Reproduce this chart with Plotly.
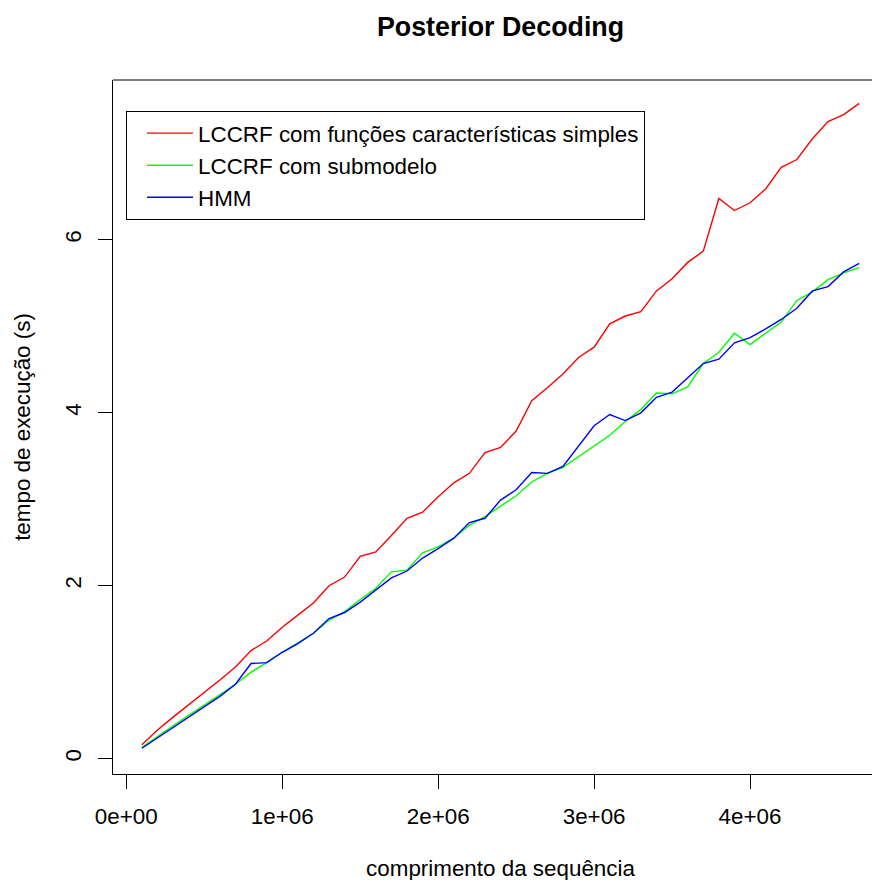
import plotly.graph_objects as go

seq_len = [i * 100000 for i in range(1, 48)]

lccrf_simples = [0.16, 0.33, 0.48, 0.62, 0.76, 0.91, 1.06, 1.25, 1.36, 1.52,
                 1.66, 1.80, 2.00, 2.10, 2.34, 2.39, 2.58, 2.78, 2.85, 3.03,
                 3.19, 3.30, 3.54, 3.60, 3.79, 4.14, 4.29, 4.45, 4.64, 4.76,
                 5.03, 5.12, 5.17, 5.41, 5.55, 5.74, 5.87, 6.48, 6.34, 6.43,
                 6.59, 6.84, 6.93, 7.17, 7.37, 7.45, 7.58]

lccrf_submodelo = [0.13, 0.26, 0.38, 0.50, 0.62, 0.74, 0.86, 1.00, 1.11, 1.23,
                   1.34, 1.45, 1.60, 1.70, 1.84, 1.97, 2.16, 2.18, 2.38, 2.45,
                   2.55, 2.70, 2.80, 2.92, 3.04, 3.20, 3.30, 3.37, 3.49, 3.61,
                   3.74, 3.90, 4.04, 4.23, 4.22, 4.30, 4.57, 4.70, 4.92, 4.79,
                   4.92, 5.05, 5.30, 5.40, 5.54, 5.62, 5.68]

hmm = [0.12, 0.24, 0.36, 0.48, 0.60, 0.72, 0.86, 1.10, 1.11, 1.23,
       1.33, 1.45, 1.62, 1.69, 1.81, 1.95, 2.09, 2.17, 2.32, 2.43,
       2.55, 2.73, 2.78, 2.99, 3.11, 3.31, 3.30, 3.38, 3.62, 3.85,
       3.98, 3.91, 4.00, 4.18, 4.24, 4.41, 4.57, 4.62, 4.81, 4.87,
       4.97, 5.08, 5.21, 5.41, 5.46, 5.63, 5.73]

series_names = ["LCCRF com funções características simples",
                "LCCRF com submodelo", "HMM"]
series_colors = ["#FF0000", "#00FF00", "#0000FF"]

x_ticks = [0, 1000000, 2000000, 3000000, 4000000]
x_tick_labels = ["0e+00", "1e+06", "2e+06", "3e+06", "4e+06"]
y_ticks = [0, 2, 4, 6]

FONT = "Liberation Sans, Arial, Helvetica, sans-serif"
FS = 22.4

fig = go.Figure()
for name, vals, col in zip(series_names,
                           [lccrf_simples, lccrf_submodelo, hmm],
                           series_colors):
    fig.add_trace(go.Scatter(x=seq_len, y=vals, mode="lines", name=name,
                             line=dict(color=col, width=1.4)))

fig.update_layout(
    template="none",
    width=880, height=880,
    paper_bgcolor="white", plot_bgcolor="white",
    margin=dict(l=105, r=0, t=72, b=114, autoexpand=False),
    font=dict(family=FONT, size=FS, color="black"),
    title=dict(text="<b>Posterior Decoding</b>", x=0.5, xref="paper",
               xanchor="center", y=0.9784, yref="container", yanchor="middle",
               font=dict(size=26.8, family=FONT, color="black")),
    showlegend=True,
    legend=dict(x=0.0168, y=0.9553, xanchor="left", yanchor="top",
                bordercolor="black", borderwidth=1, bgcolor="white",
                font=dict(size=FS, family=FONT, color="black"),
                itemwidth=46, indentation=15, tracegroupgap=0),
    xaxis=dict(range=[-85256, 4884600], tickmode="array", tickvals=x_ticks,
               ticktext=x_tick_labels, ticks="outside", ticklen=14,
               tickcolor="black", showline=True, linecolor="black",
               linewidth=1, showgrid=False, zeroline=False, automargin=False,
               tickfont=dict(size=FS), ticklabelstandoff=8,
               title=dict(text="comprimento da sequência", standoff=32,
                          font=dict(size=FS))),
    yaxis=dict(range=[-0.178, 7.85], tickmode="array", tickvals=y_ticks,
               ticks="outside", ticklen=14, tickcolor="black",
               showline=True, linecolor="black", linewidth=1,
               showgrid=False, zeroline=False, tickangle=-90, automargin=False,
               tickfont=dict(size=FS), ticklabelstandoff=8,
               title=dict(text="tempo de execução (s)", standoff=24,
                          font=dict(size=FS))),
)

fig.add_shape(type="line", xref="paper", yref="paper", x0=0, x1=1, y0=1, y1=1,
              line=dict(color="black", width=1))

fig.write_html("out.html")
